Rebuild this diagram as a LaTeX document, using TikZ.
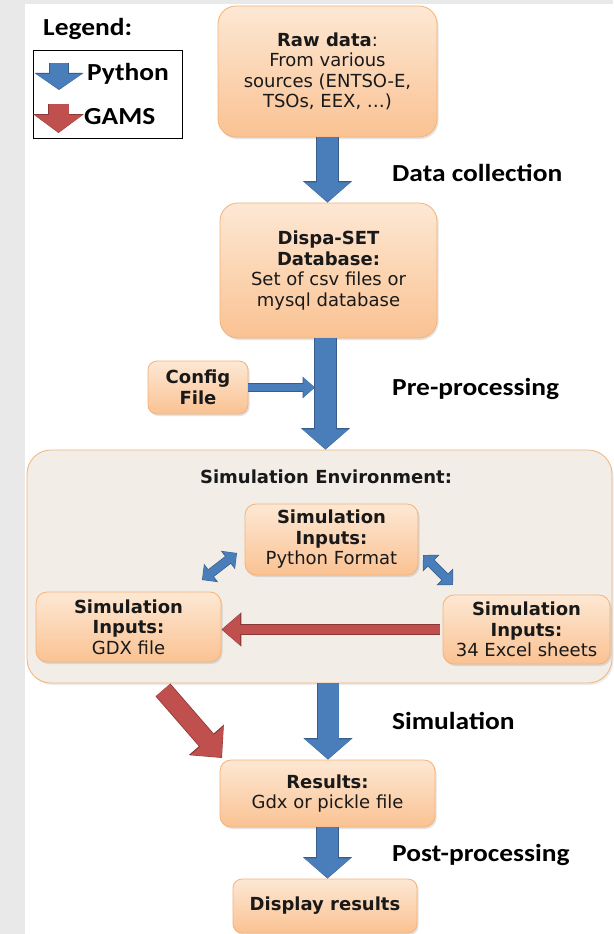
\documentclass[tikz,border=0pt]{standalone}
\usepackage{fontspec}
\setmainfont{DejaVu Sans}
\newfontfamily\lblfont[FakeStretch=1.12]{Carlito}
\usetikzlibrary{arrows.meta,shadows,calc}
\definecolor{bggray}{RGB}{233,233,233}
\definecolor{boxtop}{RGB}{253,232,212}
\definecolor{boxbot}{RGB}{250,194,146}
\definecolor{boxedge}{RGB}{243,178,122}
\definecolor{envfill}{RGB}{243,237,231}
\definecolor{envedge}{RGB}{240,180,124}
\definecolor{bfill}{RGB}{74,126,187}
\definecolor{bedge}{RGB}{56,93,138}
\definecolor{rfill}{RGB}{192,80,77}
\definecolor{redge}{RGB}{140,56,54}
\definecolor{txt}{RGB}{25,25,25}
\tikzset{
  box/.style={draw=boxedge, line width=0.8pt, top color=boxtop, bottom color=boxbot,
    rounded corners=#1, inner sep=0pt, align=center, text=txt,
    font=\fontsize{18}{20.5}\selectfont,
    drop shadow={shadow xshift=1.5pt, shadow yshift=-2pt, opacity=0.22}},
  box/.default=10pt,
  envbox/.style={draw=envedge, line width=0.8pt, fill=envfill, rounded corners=24pt,
    inner sep=0pt, drop shadow={shadow xshift=1.5pt, shadow yshift=-2pt, opacity=0.15}},
  lbl/.style={anchor=base west, inner sep=0pt, text=black,
    font=\lblfont\bfseries\fontsize{24.5}{28}\selectfont},
  bigblue/.style={preaction={draw=bedge, line width=22.6pt, shorten >=0pt,
      -{Triangle[length=21.5pt,width=48pt]}},
    draw=bfill, line width=21pt, shorten >=0.8pt, -{Triangle[length=19.5pt,width=45pt]}},
  legblue/.style={preaction={draw=bedge, line width=19.6pt, shorten >=0pt,
      -{Triangle[length=17pt,width=48pt]}},
    draw=bfill, line width=18pt, shorten >=0.8pt, -{Triangle[length=15pt,width=45pt]}},
  legred/.style={preaction={draw=redge, line width=21.6pt, shorten >=0pt,
      -{Triangle[length=19pt,width=50pt]}},
    draw=rfill, line width=20pt, shorten >=0.8pt, -{Triangle[length=17pt,width=47pt]}},
  bigred/.style={preaction={draw=redge, line width=19.6pt, shorten >=0pt,
      -{Triangle[length=24pt,width=45pt]}},
    draw=rfill, line width=18pt, shorten >=0.8pt, -{Triangle[length=22pt,width=42pt]}},
  redh/.style={preaction={draw=redge, line width=10.6pt, shorten >=0pt,
      -{Triangle[length=20pt,width=33pt]}},
    draw=rfill, line width=9pt, shorten >=0.8pt, -{Triangle[length=18pt,width=30pt]}},
  smallblue/.style={preaction={draw=bedge, line width=8.4pt, shorten >=0pt,
      -{Triangle[length=12.5pt,width=21pt]}},
    draw=bfill, line width=7pt, shorten >=0.7pt, -{Triangle[length=11pt,width=19pt]}},
  dblblue/.style={preaction={draw=bedge, line width=9.4pt, shorten >=0pt, shorten <=0pt,
      {Triangle[length=11.5pt,width=22.5pt]}-{Triangle[length=11.5pt,width=22.5pt]}},
    draw=bfill, line width=8pt, shorten >=0.7pt, shorten <=0.7pt,
    {Triangle[length=10pt,width=20pt]}-{Triangle[length=10pt,width=20pt]}},
}
\begin{document}
\begin{tikzpicture}[x=1pt,y=-1pt]
\useasboundingbox (0,0) rectangle (613,934);
\fill[bggray] (0,0) rectangle (613,934);
\fill[white] (25,4) rectangle (613,934);

% legend
\node[lbl] (legtitle) at (43,36) {Legend:};
\node[draw=black, line width=0.8pt, fill=white, minimum width=149pt, minimum height=88pt,
  inner sep=0pt] (legbox) at (107.5,94) {};
\coordinate (lb1) at (59,63);
\coordinate (lb2) at (59,90);
\coordinate (lr1) at (58.5,104);
\coordinate (lr2) at (58.5,133);
\draw[legblue] (lb1) -- (lb2);
\draw[legred] (lr1) -- (lr2);
\node[lbl] (legpy) at (87,81) {Python};
\node[lbl] (leggams) at (84,124) {GAMS};

% main boxes
\node[box=18pt, minimum width=219pt, minimum height=131pt] (raw) at (327.5,71.5)
  {\textbf{Raw data}:\\From various\\sources (ENTSO-E,\\TSOs, EEX, …)};
\node[box=18pt, minimum width=217pt, minimum height=135pt] (db) at (328.5,270.5)
  {\textbf{Dispa-SET}\\\textbf{Database:}\\Set of csv files or\\mysql database};
\node[box=9pt, minimum width=100pt, minimum height=53pt] (config) at (198,387.5)
  {\textbf{Config}\\\textbf{File}};

% simulation environment
\node[envbox, minimum width=585pt, minimum height=233pt] (env) at (319.5,566.5) {};
\node[anchor=base, inner sep=0pt, text=txt, font=\bfseries\fontsize{18}{20.5}\selectfont]
  (envtitle) at (326,483.5) {Simulation Environment:};
\node[box=11pt, minimum width=173pt, minimum height=71pt] (py) at (331.5,539.5)
  {\textbf{Simulation}\\\textbf{Inputs:}\\Python Format};
\node[box=11pt, minimum width=185pt, minimum height=70pt] (gdx) at (128.5,627)
  {\textbf{Simulation}\\\textbf{Inputs:}\\GDX file};
\node[box=11pt, minimum width=167pt, minimum height=69pt] (xls) at (526.5,629.5)
  {\textbf{Simulation}\\\textbf{Inputs:}\\34 Excel sheets};

\node[box=11pt, minimum width=215pt, minimum height=67pt] (res) at (327.5,793.5)
  {\textbf{Results:}\\Gdx or pickle file};
\node[box=9pt, minimum width=184pt, minimum height=54pt] (disp) at (325,906)
  {\textbf{Display results}};

% labels
\node[lbl] (l1) at (392,181) {Data collection};
\node[lbl] (l2) at (392,395) {Pre-processing};
\node[lbl] (l3) at (392,729) {Simulation};
\node[lbl] (l4) at (392,861) {Post-processing};

% connectors
\coordinate (ax1) at (327.5,0);
\coordinate (ax2) at (325.5,0);
\coordinate (ax3) at (328,0);
\coordinate (ax4) at (327.5,0);
\coordinate (cfgtip) at (315,0);
\draw[bigblue] (ax1 |- raw.south) -- (ax1 |- db.north);
\draw[smallblue] (config.east) -- (config.east -| cfgtip);
\draw[bigblue] (ax2 |- db.south) -- (ax2 |- env.north);
\draw[bigblue] (ax3 |- env.south) -- (ax3 |- res.north);
\draw[bigblue] (ax4 |- res.south) -- (ax4 |- disp.north);

\draw[redh, shorten <=3pt] (xls.west) -- (xls.west -| gdx.east);

\coordinate (dl1) at (202,580);
\coordinate (dl2) at (237,553);
\coordinate (dr1) at (423,555);
\coordinate (dr2) at (453,585);
\draw[dblblue] (dl1) -- (dl2);
\draw[dblblue] (dr1) -- (dr2);

\coordinate (rd1) at (163,690);
\coordinate (rd2) at (222,758);
\draw[bigred] (rd1) -- (rd2);
\end{tikzpicture}
\end{document}
